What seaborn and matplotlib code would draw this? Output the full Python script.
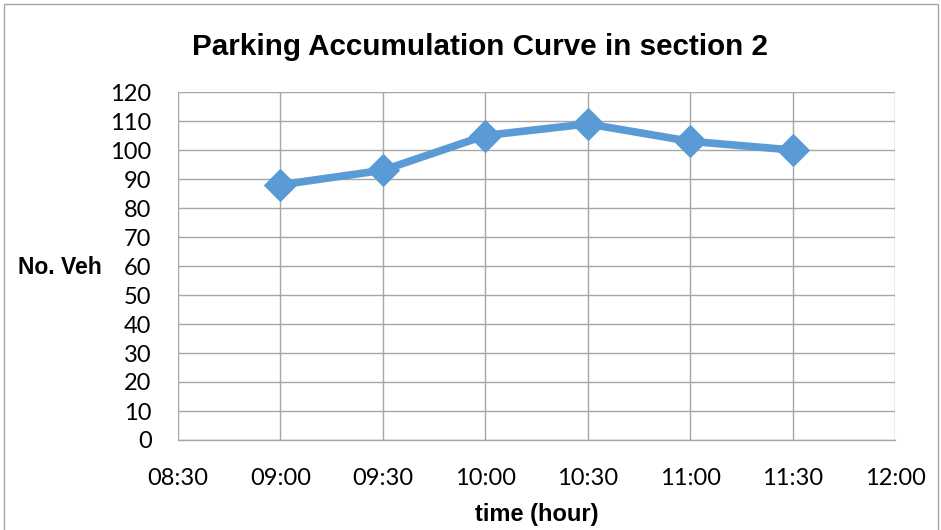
import matplotlib
matplotlib.use("Agg")
import matplotlib.pyplot as plt
from matplotlib.patches import Rectangle
import pandas as pd
import seaborn as sns

# Observed parking accumulation (vehicles) by time of day
times = ["09:00", "09:30", "10:00", "10:30", "11:00", "11:30"]
vehicles = [88, 93, 105, 109, 103, 100]
tick_labels = ["08:30", "09:00", "09:30", "10:00", "10:30", "11:00", "11:30", "12:00"]
y_ticks = list(range(0, 121, 10))


def to_hours(t):
    h, m = t.split(":")
    return int(h) + int(m) / 60.0


df = pd.DataFrame({"hour": [to_hours(t) for t in times], "veh": vehicles})
tick_pos = [to_hours(t) for t in tick_labels]

sns.set_theme(style="white")
plt.rcParams["font.family"] = ["Lato", "DejaVu Sans"]
plt.rcParams["text.color"] = "black"

fig = plt.figure(figsize=(9.41, 5.30), dpi=100)
ax = fig.add_axes([178 / 941, 1 - 440 / 530, (895 - 178) / 941, (440 - 92) / 530])

blue = "#5B9BD5"
sns.lineplot(data=df, x="hour", y="veh", ax=ax, color=blue, linewidth=5.5,
             marker="D", markersize=16, markeredgecolor=blue, markerfacecolor=blue)

ax.set_xlim(tick_pos[0], tick_pos[-1])
ax.set_ylim(0, 120)
ax.set_xticks(tick_pos)
ax.set_xticklabels(tick_labels)
ax.set_yticks(y_ticks)
ax.grid(True, color="#A6A6A6", linewidth=1.0)
ax.set_axisbelow(True)
for side in ["top", "right", "left"]:
    ax.spines[side].set_visible(False)
ax.spines["bottom"].set_color("#A6A6A6")
ax.spines["bottom"].set_linewidth(1.0)
ax.tick_params(axis="both", length=0, labelsize=17, colors="black")
ax.tick_params(axis="x", pad=20)
ax.tick_params(axis="y", pad=19)
ax.set_xlabel("")
ax.set_ylabel("")

bold_family = ["Liberation Sans", "DejaVu Sans"]
fig.text(480 / 941, 1 - 47 / 530, "Parking Accumulation Curve in section 2",
         ha="center", va="center", fontsize=21.3, fontweight="bold",
         family=bold_family, color="black")
fig.text(60 / 941, 1 - 268 / 530, "No. Veh", ha="center", va="center",
         fontsize=16.5, fontweight="bold", family=bold_family, color="black")
fig.text(537 / 941, 1 - 515 / 530, "time (hour)", ha="center", va="center",
         fontsize=17, fontweight="bold", family=bold_family, color="black")

fig.patches.append(Rectangle((4 / 941, -0.01), (938 - 4) / 941, 1 - 4 / 530 + 0.01,
                             transform=fig.transFigure, fill=False,
                             edgecolor="#A6A6A6", linewidth=1.0))

fig.savefig("out.png", dpi=100)
